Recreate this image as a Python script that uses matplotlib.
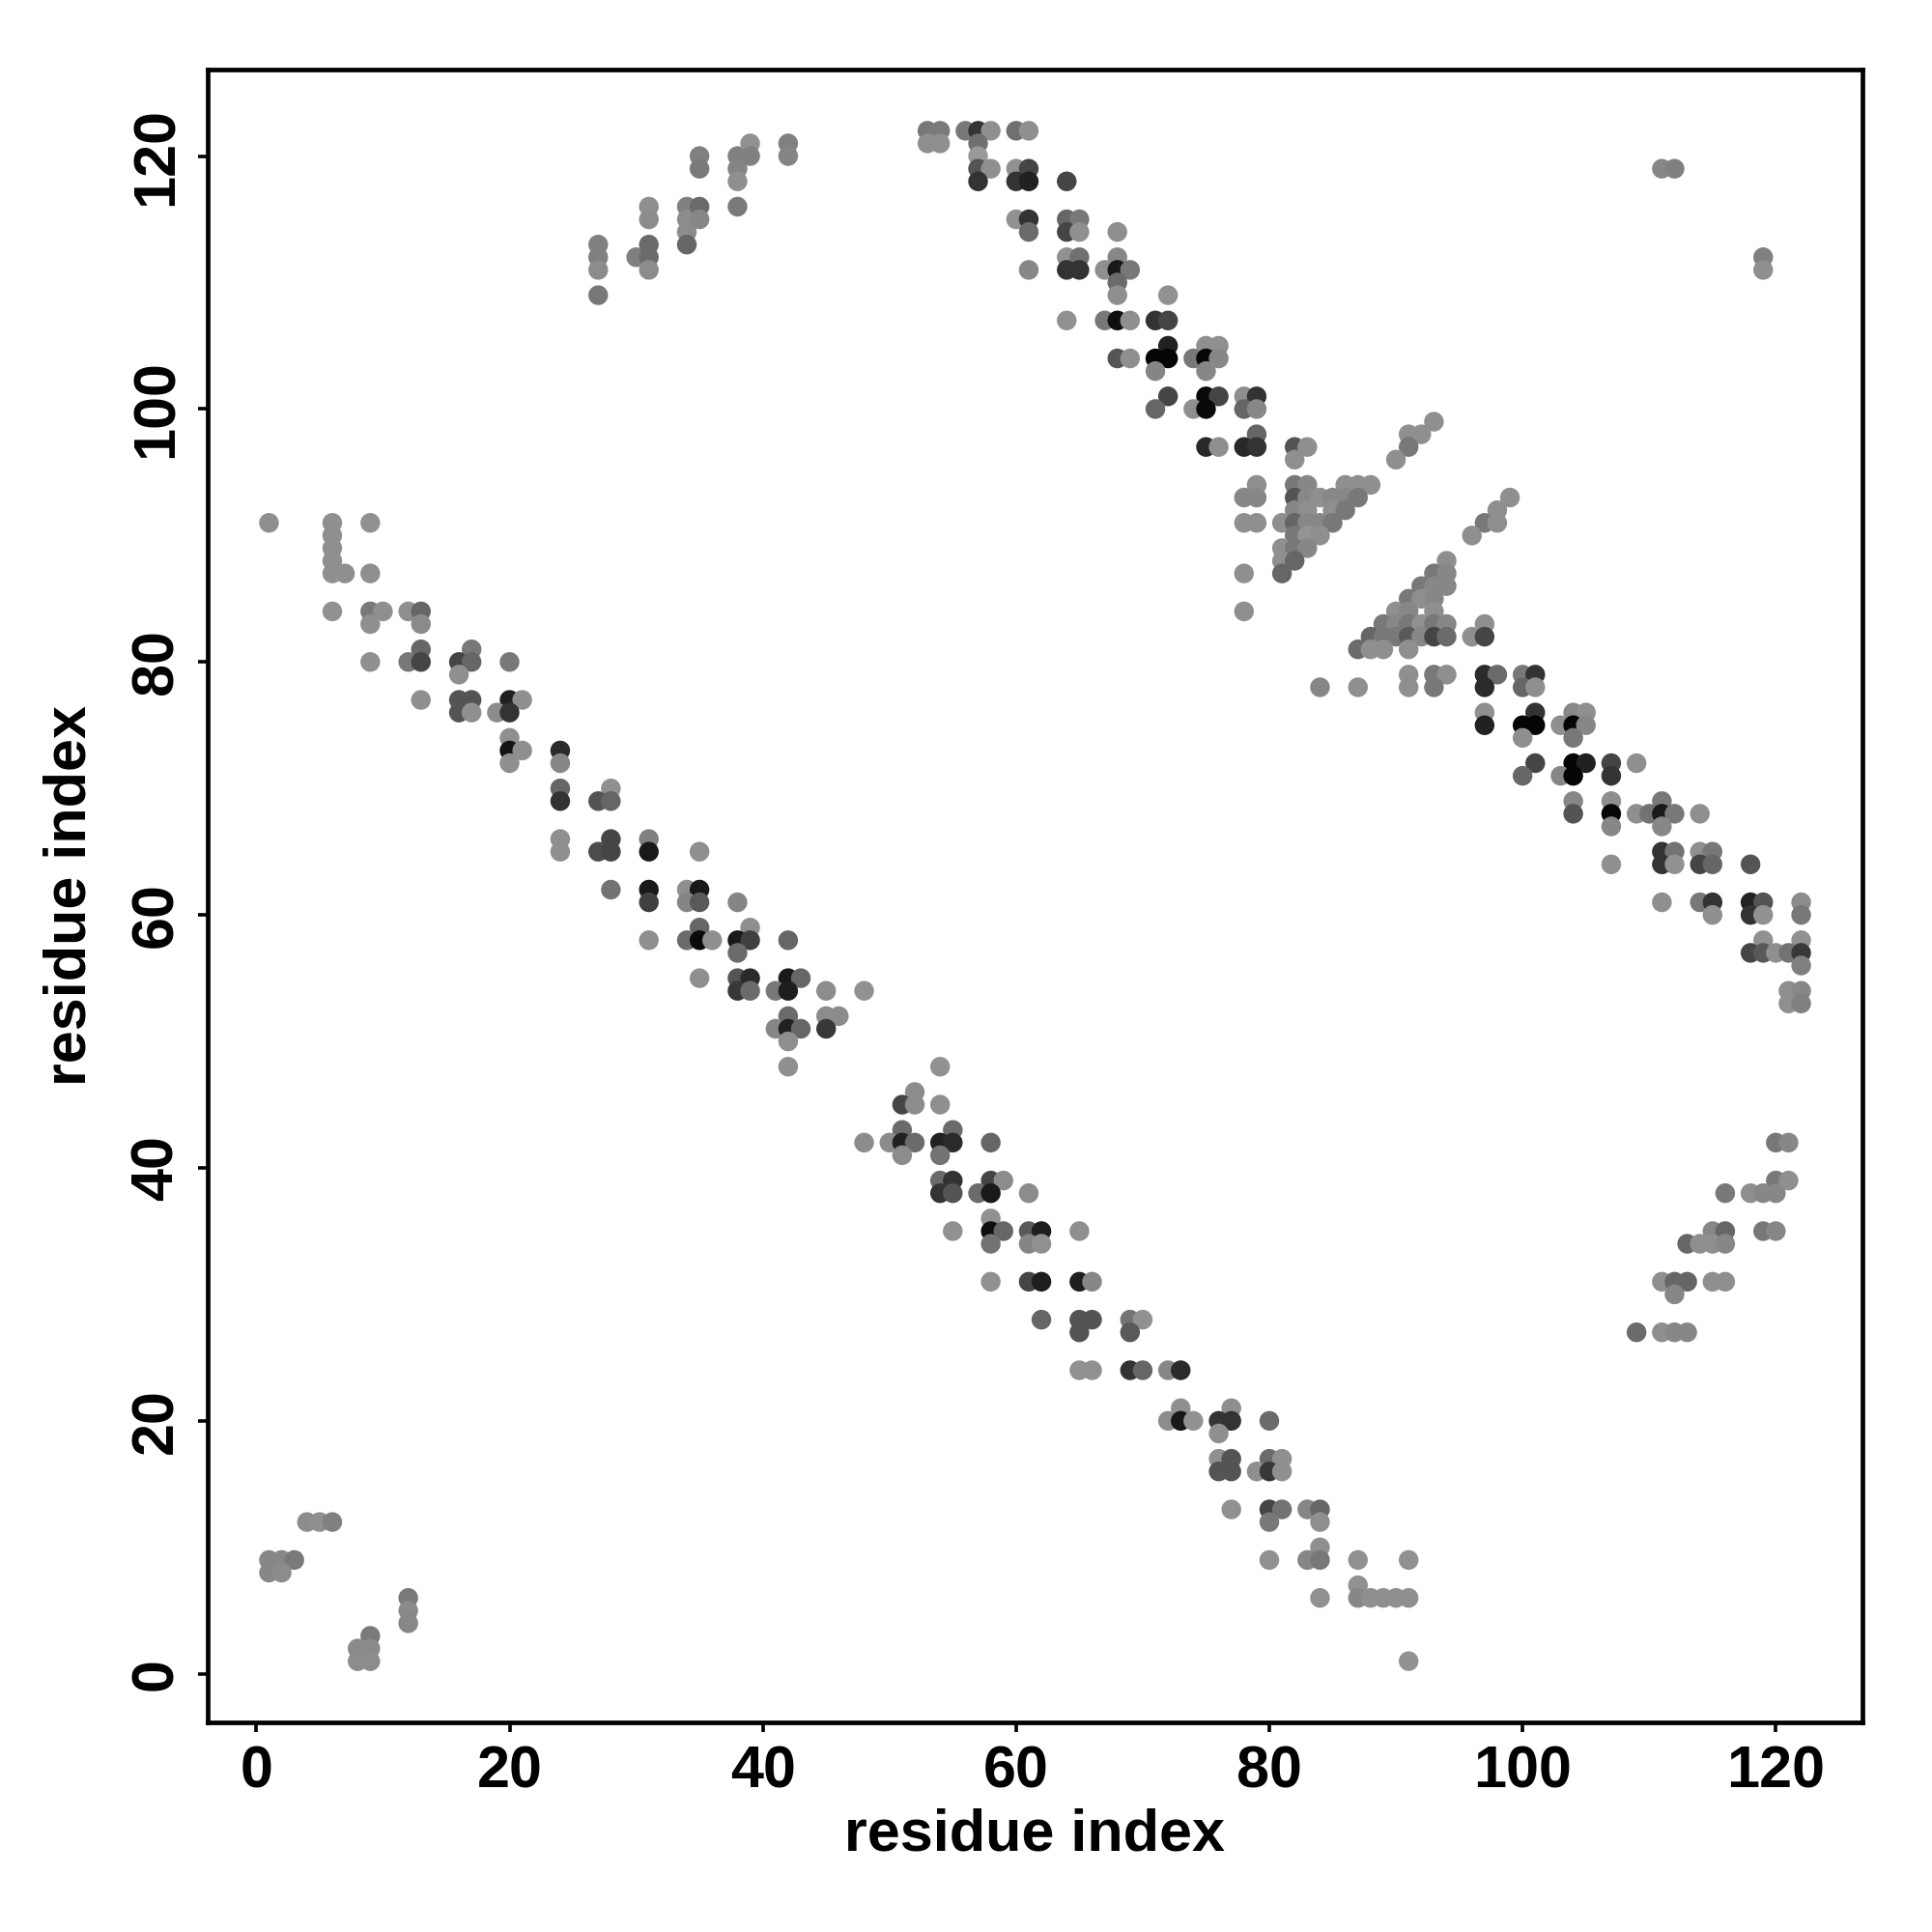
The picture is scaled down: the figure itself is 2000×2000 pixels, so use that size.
"""Residue contact map: pairs of residues in contact, shaded by contact strength."""

import matplotlib
matplotlib.use("Agg")
import matplotlib.pyplot as plt

# residue pairs (i on x, j on y) and grey level of each dot (0 = black, 1 = white)
res_i = [
    # bottom-left corner
    4, 5, 6, 1, 2, 3, 1, 2, 12, 12, 12, 9, 8, 9, 8, 9,
    # left antiparallel band, upper part
    1, 6, 9, 6, 6, 6, 6, 7, 9,
    6, 9, 10, 12, 13, 9, 13, 13, 17,
    9, 12, 13, 16, 17, 20, 16,
    13, 16, 17, 20, 21, 16, 17, 19, 20, 20, 20, 21, 24, 20, 24,
    24, 28, 24, 27, 28, 24, 28, 31, 24, 27, 28, 31, 35,
    28, 31, 34, 35, 31, 34, 35, 38, 35, 39,
    31, 34, 35, 36, 38, 39, 42, 38,
    35, 38, 39, 42, 43, 38, 39, 41, 42, 45, 48,
    42, 45, 46, 41, 42, 43, 45, 42, 42,
    # left antiparallel band, lower part
    54, 52, 51, 52, 54, 51, 55,
    48, 50, 51, 52, 54, 55, 58, 51, 54,
    54, 55, 58, 59, 54, 55, 57, 58, 61, 58,
    55, 58, 59, 61, 62, 65, 58, 61, 62,
    58, 61, 62, 65, 66, 62, 65, 66, 69, 70, 65, 69,
    65, 66, 69, 70, 72, 73, 73, 72, 73, 74,
    77, 76, 77, 80, 76, 76, 77, 80, 81, 76, 77, 79, 80, 81,
    77, 80, 81, 83, 84, 80, 84, 84, 80, 83, 84, 87, 91, 87,
    84, 87, 88, 89, 90, 91, 91,
    # top-left parallel cluster
    27, 27, 27, 27, 30, 31, 31, 31, 31, 31, 34, 34, 34, 34,
    35, 35, 35, 35, 38, 38, 38, 38, 39, 39, 42, 42,
    # top antiparallel band
    53, 54, 56, 57, 58, 60, 61, 53, 54, 57, 57,
    57, 58, 60, 61, 57, 60, 61, 64,
    60, 61, 64, 65, 61, 64, 65, 68, 64, 65, 68,
    61, 64, 65, 67, 68, 69, 68, 68, 72,
    64, 67, 68, 69, 71, 72, 72, 68, 69, 71, 72, 71, 72, 71,
    75, 76, 74, 75, 76, 75, 75, 76, 78, 79, 74, 75, 78, 79, 79,
    75, 76, 78, 79, 82, 83, 82,
    79, 82, 83, 86, 87, 88, 78, 79, 82, 83, 84, 85, 86, 87,
    82, 83, 85, 86, 78, 79, 81, 82, 83, 84, 85, 82, 83, 84,
    81, 82, 83, 81, 82, 78, 81, 78,
    # crossing region
    93, 91, 92, 91, 90, 99, 98, 97, 98, 96, 94, 93, 94,
    92, 93, 94, 91, 92, 93, 90, 91, 93,
    89, 90, 91, 92, 93, 94, 97,
    88, 89, 90, 91, 92, 93, 94, 96, 97,
    87, 88, 89, 91,
    91, 93, 94, 97, 98, 100, 101, 84, 87, 91, 93, 97, 100, 101,
    97, 101, 97, 100, 101, 100,
    # right antiparallel band
    104, 105, 103, 104, 105, 104,
    101, 104, 105, 107, 109, 100, 103, 104, 107,
    104, 107, 111, 104, 107, 109, 110, 111, 112, 114, 107, 111,
    111, 112, 114, 115, 107, 111, 112, 114, 115, 118,
    111, 114, 115, 118, 119, 122, 115, 118, 119, 122, 119, 122,
    118, 119, 120, 121, 122, 122, 121, 122, 121, 122,
    # bottom-right parallel cluster
    120, 121, 120, 121, 116, 118, 119, 120, 115, 116, 119, 120,
    113, 114, 115, 116, 111, 112, 113, 115, 116, 112, 109, 111, 112, 113,
    # top-right strays
    111, 112, 119, 119,
]
res_j = [
    12, 12, 12, 9, 9, 9, 8, 8, 6, 5, 4, 3, 2, 2, 1, 1,
    91, 91, 91, 90, 89, 88, 87, 87, 87,
    84, 84, 84, 84, 84, 83, 83, 81, 81,
    80, 80, 80, 80, 80, 80, 79,
    77, 77, 77, 77, 77, 76, 76, 76, 76, 74, 73, 73, 73, 72, 72,
    70, 70, 69, 69, 69, 66, 66, 66, 65, 65, 65, 65, 65,
    62, 62, 62, 62, 61, 61, 61, 61, 59, 59,
    58, 58, 58, 58, 58, 58, 58, 57,
    55, 55, 55, 55, 55, 54, 54, 54, 54, 54, 54,
    52, 52, 52, 51, 51, 51, 51, 50, 48,
    48, 46, 45, 45, 45, 43, 43,
    42, 42, 42, 42, 42, 42, 42, 41, 41,
    39, 39, 39, 39, 38, 38, 38, 38, 38, 36,
    35, 35, 35, 35, 35, 35, 34, 34, 34,
    31, 31, 31, 31, 31, 28, 28, 28, 28, 28, 27, 27,
    24, 24, 24, 24, 24, 24, 21, 20, 20, 20,
    21, 20, 20, 20, 19, 17, 17, 17, 17, 16, 16, 16, 16, 16,
    13, 13, 13, 13, 13, 12, 12, 10, 9, 9, 9, 9, 9, 7,
    6, 6, 6, 6, 6, 6, 1,
    113, 112, 111, 109, 112, 116, 115, 113, 112, 111, 116, 115, 114, 113,
    120, 119, 116, 115, 120, 119, 118, 116, 121, 120, 121, 120,
    122, 122, 122, 122, 122, 122, 122, 121, 121, 121, 120,
    119, 119, 119, 119, 118, 118, 118, 118,
    115, 115, 115, 115, 114, 114, 114, 114, 112, 112, 112,
    111, 111, 111, 111, 111, 111, 110, 109, 109,
    107, 107, 107, 107, 107, 107, 105, 104, 104, 104, 104, 103, 101, 100,
    105, 105, 104, 104, 104, 103, 101, 101, 101, 101, 100, 100, 100, 100, 98,
    97, 97, 97, 97, 97, 97, 96,
    94, 94, 94, 94, 94, 94, 93, 93, 93, 93, 93, 93, 93, 93,
    92, 92, 92, 92, 91, 91, 91, 91, 91, 91, 91, 90, 90, 90,
    89, 89, 89, 88, 88, 87, 87, 84,
    99, 98, 98, 97, 96, 93, 92, 91, 91, 90, 88, 87, 87,
    86, 86, 86, 85, 85, 85, 84, 84, 84,
    83, 83, 83, 83, 83, 83, 83,
    82, 82, 82, 82, 82, 82, 82, 82, 82,
    81, 81, 81, 81,
    79, 79, 79, 79, 79, 79, 79, 78, 78, 78, 78, 78, 78, 78,
    76, 76, 75, 75, 75, 74,
    76, 76, 75, 75, 75, 74,
    72, 72, 72, 72, 72, 71, 71, 71, 71,
    69, 69, 69, 68, 68, 68, 68, 68, 68, 68, 67, 67,
    65, 65, 65, 65, 64, 64, 64, 64, 64, 64,
    61, 61, 61, 61, 61, 61, 60, 60, 60, 60, 58, 58,
    57, 57, 57, 57, 57, 56, 54, 54, 53, 53,
    42, 42, 39, 39, 38, 38, 38, 38, 35, 35, 35, 35,
    34, 34, 34, 34, 31, 31, 31, 31, 31, 30, 27, 27, 27, 27,
    119, 119, 112, 111,
]
shade = [
    .55, .56, .50, .53, .53, .48, .53, .55, .48, .54, .53, .48, .54, .54, .55, .55,
    .56, .56, .57, .56, .56, .56, .56, .56, .56,
    .57, .47, .56, .56, .40, .56, .54, .40, .47,
    .56, .47, .27, .27, .40, .47, .56,
    .56, .33, .33, .13, .56, .33, .56, .55, .20, .56, .08, .56, .17, .56, .53,
    .40, .56, .20, .33, .40, .56, .27, .50, .56, .30, .27, .10, .56,
    .45, .10, .56, .10, .25, .52, .35, .52, .40, .56,
    .56, .42, .04, .56, .10, .25, .40, .42,
    .56, .33, .17, .10, .40, .22, .42, .47, .12, .55, .57,
    .42, .55, .55, .53, .13, .40, .22, .56, .56,
    .57, .55, .27, .55, .56, .42, .42,
    .55, .55, .13, .42, .13, .17, .40, .55, .45,
    .42, .20, .27, .55, .20, .33, .42, .10, .55, .57,
    .57, .06, .40, .35, .12, .56, .45, .52, .57,
    .57, .27, .12, .12, .53, .40, .33, .33, .45, .57, .33, .35,
    .57, .57, .20, .40, .53, .17, .56, .55, .10, .57,
    .56, .20, .20, .42, .56, .56, .33, .42, .56, .33, .33, .56, .22, .56,
    .57, .27, .45, .52, .40, .47, .56, .56, .57, .52, .47, .57, .57, .57,
    .57, .53, .56, .56, .56, .56, .57,
    .50, .50, .55, .47, .50, .56, .55, .42, .42, .55, .50, .55, .55, .40,
    .50, .48, .42, .53, .50, .52, .56, .48, .57, .50, .50, .52,
    .47, .48, .47, .20, .56, .44, .56, .56, .56, .44, .60,
    .33, .56, .57, .27, .20, .20, .13, .27,
    .57, .20, .40, .47, .42, .27, .56, .56, .57, .44, .53,
    .53, .20, .20, .56, .10, .47, .42, .56, .57,
    .57, .47, .06, .56, .20, .27, .13, .33, .56, .02, .02, .52, .27, .40,
    .56, .56, .47, .03, .53, .53, .04, .27, .56, .20, .56, .04, .40, .53, .40,
    .16, .56, .16, .20, .33, .56, .56,
    .56, .47, .53, .56, .56, .56, .53, .53, .33, .53, .56, .53, .53, .47,
    .53, .56, .56, .47, .56, .56, .56, .40, .53, .53, .47, .47, .58, .56,
    .56, .47, .53, .56, .40, .56, .40, .56,
    .56, .56, .56, .47, .56, .56, .56, .47, .56, .56, .56, .47, .53,
    .47, .53, .53, .47, .56, .53, .56, .53, .56,
    .47, .53, .47, .57, .47, .53, .56,
    .40, .47, .47, .35, .53, .27, .42, .56, .27,
    .42, .56, .56, .56,
    .56, .47, .56, .17, .42, .47, .20, .53, .56, .56, .47, .17, .40, .56,
    .56, .20, .13, .02, .02, .56,
    .53, .56, .56, .02, .53, .47,
    .27, .02, .13, .27, .56, .40, .53, .02, .20,
    .53, .56, .47, .33, .03, .56, .45, .10, .47, .56, .53, .53,
    .20, .45, .56, .47, .56, .20, .57, .27, .40, .33,
    .56, .47, .20, .14, .33, .55, .56, .20, .57, .47, .57, .57,
    .27, .35, .56, .45, .22, .50, .56, .53, .56, .50,
    .47, .53, .47, .56, .47, .56, .53, .53, .53, .40, .47, .53,
    .40, .56, .56, .53, .56, .40, .40, .56, .56, .53, .42, .56, .53, .53,
    .53, .50, .50, .56,
]

LABEL_FONT = ["Liberation Sans Narrow", "Liberation Sans", "DejaVu Sans"]
plt.rcParams["font.family"] = LABEL_FONT
plt.rcParams["font.weight"] = "bold"

fig = plt.figure(figsize=(10, 10), dpi=200)
ax = fig.add_axes([0.1075, 0.1085, 0.8565, 0.8555])

ax.scatter(res_i, res_j, c=shade, cmap="gray", vmin=0, vmax=1,
           s=54, marker="o", linewidths=0)

ax.set_xlim(-3.84, 126.84)
ax.set_ylim(-3.84, 126.84)
ticks = [0, 20, 40, 60, 80, 100, 120]
ax.set_xticks(ticks)
ax.set_yticks(ticks)
ax.tick_params(axis="both", labelsize=22, width=1.3, length=3.5, pad=5)
for lbl in ax.get_yticklabels():
    lbl.set_rotation(90)
    lbl.set_va("center")
for lbl in ax.get_xticklabels() + ax.get_yticklabels():
    lbl.set_fontweight("bold")

for sp in ax.spines.values():
    sp.set_linewidth(1.7)

ax.set_xlabel("residue index", fontsize=22, fontweight="bold", labelpad=3)
ax.set_ylabel("residue index", fontsize=22, fontweight="bold", labelpad=12)

fig.savefig("out.png", dpi=200)
